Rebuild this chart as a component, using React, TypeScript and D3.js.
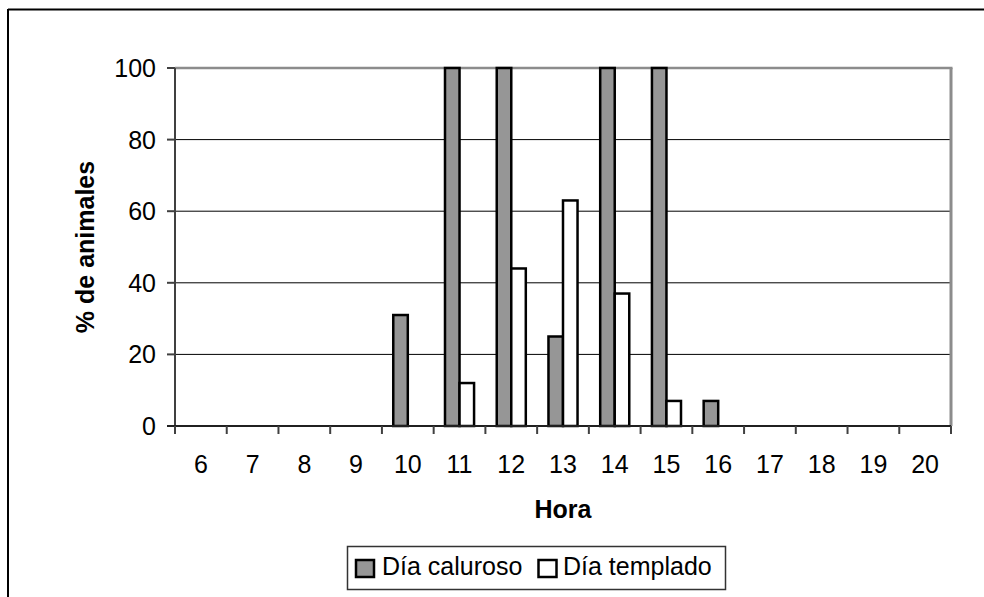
import React from "react";
import * as d3 from "d3";

const categories = ["6", "7", "8", "9", "10", "11", "12", "13", "14", "15", "16", "17", "18", "19", "20"];
const seriesNames = ["Día caluroso", "Día templado"];
const caluroso = [0, 0, 0, 0, 31, 100, 100, 25, 100, 100, 7, 0, 0, 0, 0];
const templado = [0, 0, 0, 0, 0, 12, 44, 63, 37, 7, 0, 0, 0, 0, 0];
const yTicks = [0, 20, 40, 60, 80, 100];
const seriesFill = ["#969696", "#ffffff"];

const FONT = "'Liberation Sans', Arial, sans-serif";

export default function App() {
  const W = 984, H = 597;
  const L = 175, R = 951, T = 68, B = 426;
  const x0 = d3.scaleBand<string>().domain(categories).range([L, R]).paddingInner(0).paddingOuter(0);
  const x1 = d3.scaleBand<string>().domain(seriesNames).range([0, x0.bandwidth()]).paddingInner(0).paddingOuter(0.78);
  const y = d3.scaleLinear().domain([0, 100]).range([B, T]);
  const data = [caluroso, templado];

  const boundaries = categories.map((c) => x0(c) as number).concat([R]);

  return (
    <svg width={W} height={H} style={{ position: "absolute", left: 0, top: 0, background: "#fff" }} fontFamily={FONT}>
      {/* outer chart border (extends beyond view) */}
      <line x1={8} y1={9.5} x2={W + 5} y2={9.5} stroke="#000" strokeWidth={2} />
      <line x1={8} y1={9} x2={8} y2={H + 5} stroke="#000" strokeWidth={2} />

      {/* gridlines */}
      {yTicks.filter((t) => t > 0 && t < 100).map((t) => (
        <line key={"g" + t} x1={L} x2={R} y1={y(t)} y2={y(t)} stroke="#000" strokeWidth={1} />
      ))}
      {/* plot frame top/right */}
      <line x1={L} x2={R + 1.5} y1={T} y2={T} stroke="#8c8c8c" strokeWidth={2.5} />
      <line x1={R} x2={R} y1={T} y2={B} stroke="#8c8c8c" strokeWidth={3} />

      {/* bars */}
      {categories.map((c, i) => (
        <g key={"c" + c}>
          {seriesNames.map((s, j) => {
            const v = data[j][i];
            if (!v) return null;
            const bx = (x0(c) as number) + (x1(s) as number);
            return (
              <rect key={s} x={bx} y={y(v)} width={x1.bandwidth()} height={B - y(v)}
                fill={seriesFill[j]} stroke="#000" strokeWidth={2.5} />
            );
          })}
        </g>
      ))}

      {/* y axis */}
      <line x1={L} x2={L} y1={T} y2={B + 1} stroke="#404040" strokeWidth={2} />
      {yTicks.map((t) => (
        <g key={"y" + t}>
          <line x1={L - 8} x2={L} y1={y(t)} y2={y(t)} stroke="#404040" strokeWidth={2} />
          <text x={156} y={y(t) + 9} textAnchor="end" fontSize={25} fill="#000">{t}</text>
        </g>
      ))}

      {/* x axis */}
      <line x1={L - 8} x2={R} y1={B} y2={B} stroke="#202020" strokeWidth={2} />
      {boundaries.map((bx, i) => (
        <line key={"xt" + i} x1={bx} x2={bx} y1={B} y2={B + 8} stroke="#404040" strokeWidth={2} />
      ))}
      {categories.map((c) => (
        <text key={"xl" + c} x={(x0(c) as number) + x0.bandwidth() / 2} y={473} textAnchor="middle" fontSize={25} fill="#000">{c}</text>
      ))}

      {/* axis titles */}
      <text x={(L + R) / 2} y={518} textAnchor="middle" fontSize={25} fontWeight="bold" fill="#000">Hora</text>
      <text transform={`translate(94, ${(T + B) / 2}) rotate(-90)`} textAnchor="middle" fontSize={25} fontWeight="bold" fill="#000">% de animales</text>

      {/* legend */}
      <rect x={347.5} y={546.5} width={378} height={43} fill="#fff" stroke="#333" strokeWidth={1.5} />
      <rect x={356} y={560} width={18} height={17} fill={seriesFill[0]} stroke="#000" strokeWidth={2.5} />
      <text x={382} y={575} fontSize={25} fill="#000">{seriesNames[0]}</text>
      <rect x={538.5} y={560} width={18} height={17} fill={seriesFill[1]} stroke="#000" strokeWidth={2.5} />
      <text x={563} y={575} fontSize={25} fill="#000">{seriesNames[1]}</text>
    </svg>
  );
}
